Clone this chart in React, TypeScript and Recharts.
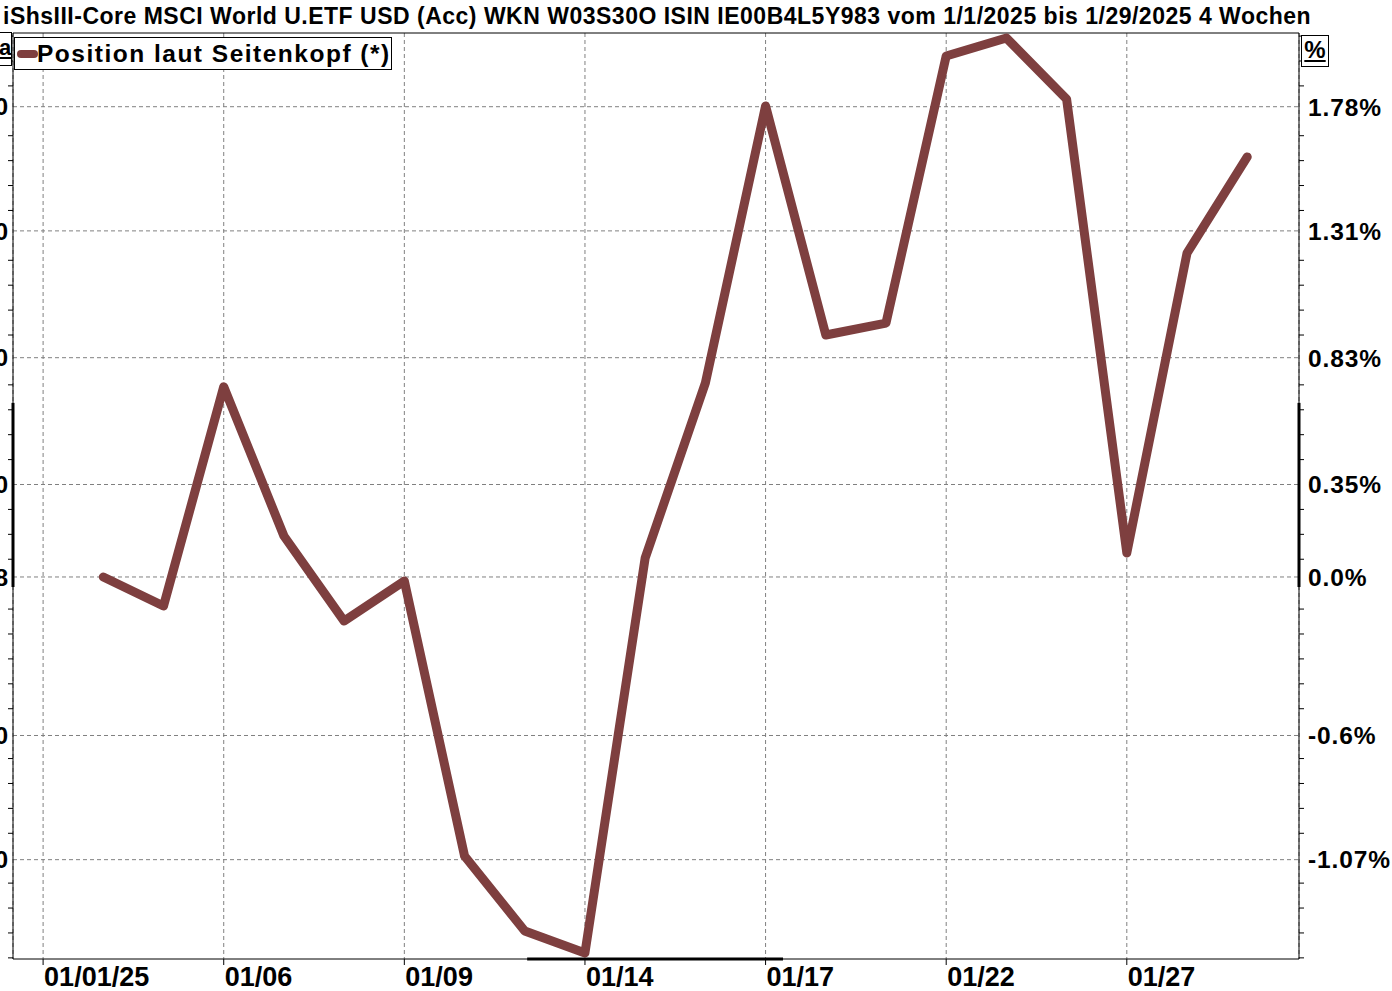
import React from 'react'
import { LineChart, Line, XAxis, YAxis, CartesianGrid, ReferenceLine } from 'recharts'

// trading days, index 0 (01/01/25) is the holiday without a quote
const dates = ['01/01/25', '01/02', '01/03', '01/06', '01/07', '01/08', '01/09', '01/10', '01/13', '01/14', '01/15',
  '01/16', '01/17', '01/20', '01/21', '01/22', '01/23', '01/24', '01/27', '01/28', '01/29']
const changePct = [null, 0.0, -0.11, 0.72, 0.155, -0.167, -0.015, -1.056, -1.34, -1.423, 0.072,
  0.734, 1.783, 0.916, 0.961, 1.972, 2.04, 1.809, 0.091, 1.226, 1.59]

const xTickIdx = [0, 3, 6, 9, 12, 15, 18]
const xTickLabels = ['01/01/25', '01/06', '01/09', '01/14', '01/17', '01/22', '01/27']

const pctTicks = [1.78, 1.31, 0.83, 0.35, 0, -0.6, -1.07]
const pctLabels = ['1.78%', '1.31%', '0.83%', '0.35%', '0.0%', '-0.6%', '-1.07%']
const priceLabels = ['108,50', '108,00', '107,50', '107,00', '106,68', '106,00', '105,50']

// small marks between the grid lines (every 0.10 in price)
const minorStep = 0.0943
const minorTicks = Array.from({ length: 38 }, (_, k) => 0.35 + (k - 19) * minorStep)
  .filter(v => pctTicks.every(t => Math.abs(t - v) > 0.04))
const allYTicks = [...pctTicks, ...minorTicks]

const title = 'iShsIII-Core MSCI World U.ETF USD (Acc) WKN W03S30O ISIN IE00B4L5Y983 vom 1/1/2025 bis 1/29/2025 4 Wochen'

const data = dates.map((d, i) => ({ i, date: d, pct: changePct[i] }))

const FONT = 'Arial, "Liberation Sans", sans-serif'
const LINE_COLOR = '#7E3F3F'
const X_DOMAIN: [number, number] = [-0.5, 20.86]
const Y_DOMAIN: [number, number] = [-1.446, 2.059]

const XTick = (props: any) => {
  const { x, y, payload } = props
  const idx = xTickIdx.indexOf(payload.value)
  return (
    <g>
      <line x1={x} x2={x} y1={y} y2={y + 6} stroke="#000" />
      <text x={x + 1} y={y + 27} fontSize={27} fontWeight="bold" fontFamily='"Liberation Sans Narrow", Arial, sans-serif' fill="#000">
        {xTickLabels[idx]}
      </text>
    </g>
  )
}

const RightTick = (props: any) => {
  const { x, y, payload } = props
  const idx = pctTicks.indexOf(payload.value)
  if (idx < 0) return <line x1={x} x2={x + 5} y1={y} y2={y} stroke="#000" />
  return (
    <text x={x + 9} y={y} dy="0.36em" fontSize={24.5} letterSpacing={0.9} fontWeight="bold" fontFamily={FONT} fill="#000">
      {pctLabels[idx]}
    </text>
  )
}

const LeftTick = (props: any) => {
  const { x, y, payload } = props
  const idx = pctTicks.indexOf(payload.value)
  if (idx < 0) return <line x1={x - 5} x2={x} y1={y} y2={y} stroke="#000" />
  return (
    <text x={x - 5} y={y} dy="0.36em" textAnchor="end" fontSize={24} fontWeight="bold" fontFamily={FONT} fill="#000">
      {priceLabels[idx]}
    </text>
  )
}

export default function App() {
  return (
    <div style={{ position: 'absolute', left: 0, top: 0, width: 1392, height: 991, overflow: 'hidden', background: '#fff' }}>
      <div style={{ position: 'absolute', left: 3, top: 3, fontFamily: FONT, fontWeight: 'bold', fontSize: 23, letterSpacing: 0.5,
        whiteSpace: 'nowrap', lineHeight: '26px' }}>
        {title}
      </div>
      <LineChart width={1392} height={991} data={data} margin={{ top: 33, right: 0, bottom: 0, left: 0 }}>
        <CartesianGrid yAxisId="pct" stroke="#808080" strokeDasharray="4 3" horizontalValues={pctTicks} />
        <XAxis dataKey="i" type="number" domain={X_DOMAIN} ticks={xTickIdx} height={32}
          tickSize={0} tickMargin={0} tick={<XTick />} axisLine={{ stroke: '#000' }} tickLine={false} interval={0} allowDataOverflow />
        <YAxis yAxisId="price" orientation="left" type="number" domain={Y_DOMAIN} ticks={allYTicks} width={13}
          tickSize={0} tickMargin={0} tick={<LeftTick />} axisLine={{ stroke: '#000' }} tickLine={false} interval={0} allowDataOverflow />
        <YAxis yAxisId="pct" orientation="right" type="number" domain={Y_DOMAIN} ticks={allYTicks} width={93}
          tickSize={0} tickMargin={0} tick={<RightTick />} axisLine={{ stroke: '#000' }} tickLine={false} interval={0} allowDataOverflow />
        <ReferenceLine yAxisId="pct" y={Y_DOMAIN[1]} stroke="#000" ifOverflow="visible" />
        <ReferenceLine yAxisId="pct" segment={[{ x: X_DOMAIN[0], y: 0.659 }, { x: X_DOMAIN[0], y: -0.038 }]} stroke="#000" strokeWidth={3} ifOverflow="visible" />
        <ReferenceLine yAxisId="pct" segment={[{ x: X_DOMAIN[1], y: 0.659 }, { x: X_DOMAIN[1], y: -0.038 }]} stroke="#000" strokeWidth={3} ifOverflow="visible" />
        <ReferenceLine yAxisId="pct" segment={[{ x: 8.04, y: Y_DOMAIN[0] }, { x: 12.29, y: Y_DOMAIN[0] }]} stroke="#000" strokeWidth={3} ifOverflow="visible" />
        <Line yAxisId="pct" dataKey="pct" stroke={LINE_COLOR} strokeWidth={9} strokeLinecap="round" strokeLinejoin="round"
          dot={false} activeDot={false} isAnimationActive={false} connectNulls={false} />
      </LineChart>
      <div style={{ position: 'absolute', left: 14, top: 37, width: 376, height: 31, border: '1px solid #000', background: '#fff',
        fontFamily: FONT, fontWeight: 'bold', fontSize: 24.5, letterSpacing: 1.5, lineHeight: '31px', whiteSpace: 'nowrap' }}>
        <span style={{ position: 'absolute', left: 2, top: 12, width: 21, height: 8, borderRadius: 4, background: LINE_COLOR }} />
        <span style={{ position: 'absolute', left: 22, top: 0 }}>Position laut Seitenkopf (*)</span>
      </div>
      <div style={{ position: 'absolute', left: -2, top: 32, width: 12, height: 32, border: '1px solid #000', background: '#fff',
        fontFamily: FONT, fontWeight: 'bold', fontSize: 22, lineHeight: '30px', textAlign: 'right' }}>
        <span style={{ textDecoration: 'underline', paddingRight: 1 }}>a</span>
      </div>
      <div style={{ position: 'absolute', left: 1301, top: 35, width: 26, height: 30, border: '1px solid #000', background: '#fff',
        fontFamily: FONT, fontWeight: 'bold', fontSize: 24, lineHeight: '28px', textAlign: 'center' }}>
        <span style={{ textDecoration: 'underline' }}>%</span>
      </div>
    </div>
  )
}
